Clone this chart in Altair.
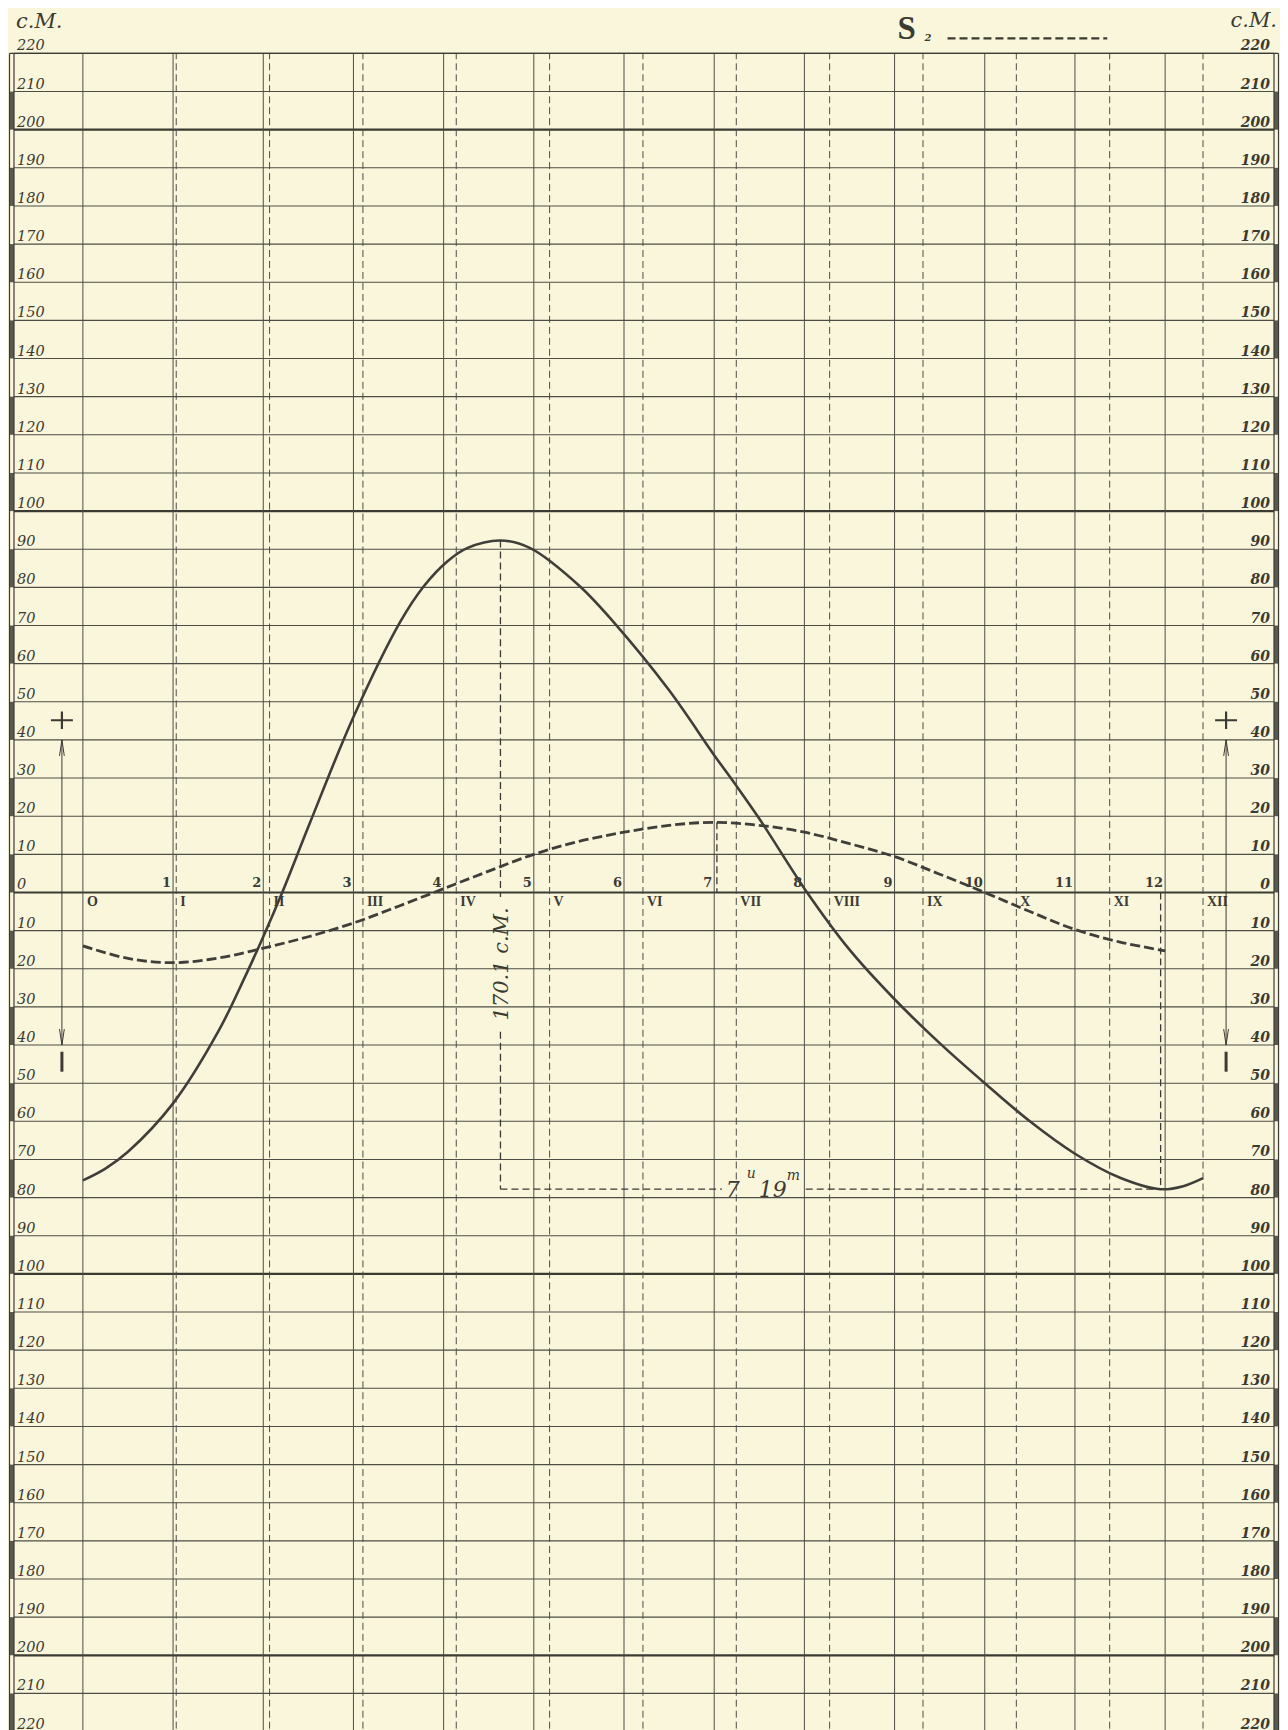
import altair as alt
import pandas as pd

# ---------------- data ----------------
# solid curve (hours, cm)
solid_h = [0, 0.25, 0.5, 1.0, 1.5, 1.8, 2.0, 2.21, 2.52, 3.0, 3.52, 3.78, 4.04, 4.26, 4.63,
           4.96, 5.51, 5.88, 6.5, 7.0, 7.23, 7.51, 8.03, 8.5, 9.0, 9.5, 10.0, 10.5,
           11.0, 11.5, 11.95, 12.2, 12.42]
solid_v = [-75.5, -72.4, -68, -55.3, -36.5, -22, -11.6, 0, 18.4, 46, 71, 80.3, 86.8, 90.3, 92.3,
           90.3, 80.3, 71, 53, 36, 28.5, 19, 0, -15, -28, -39.5, -50, -60, -68.5, -74.8,
           -77.8, -77, -74.9]
# S2 curve (dashed)
s2_h = [0, 0.5, 1.0, 1.5, 2.0, 2.5, 3.0, 3.5, 4.0, 4.5, 5.0, 5.5, 6.0, 6.5, 7.0, 7.5,
        8.0, 8.5, 9.0, 9.5, 10.0, 10.5, 11.0, 11.5, 12.0]
s2_v = [-14, -17.3, -18.4, -17.2, -14.6, -11.6, -8, -3.6, 1, 5.6, 10, 13.4, 15.8, 17.6,
        18.4, 17.6, 15.8, 12.8, 9.4, 4.8, 0, -5, -9.7, -13, -15.3]

levels = list(range(-220, 221, 10))
major_levels = [-200, -100, 0, 100, 200]
band_starts = list(range(-220, 201, 20))
solar_hours = list(range(0, 13))
arabic_labels = [str(i) for i in range(1, 13)]
roman_labels = ["O", "I", "II", "III", "IV", "V", "VI", "VII", "VIII", "IX", "X", "XI", "XII"]
LUNAR_HOUR = 12.42 / 12

max_h, max_v = 4.63, 92.3
min_h, min_v = 11.95, -77.8
s2_peak_h, s2_peak_v = 7.03, 18.4
range_label = "170.1 c.M."
unit_label = "c.M."
title_main, title_sub = "S", "2"

# ---------------- geometry helpers (page pixels -> data units) ----------------
W, H = 1272, 1714
PXH, PXV = 90.33, 3.82
X0_PAGE, Y0_PAGE = 82, 890.5      # page position of hour 0 / level 0


def hx(px):
    return (px - X0_PAGE) / PXH


def vy(py):
    return (Y0_PAGE - py) / PXV


H0, H1 = hx(8), hx(8 + W)
V0, V1 = vy(8 + H), vy(8)

PAPER = "#FAF6DC"
INK = "#3b3a33"
GRID = "#4d4c45"

XS = alt.Scale(domain=[H0, H1], nice=False, zero=False)
YS = alt.Scale(domain=[V0, V1], nice=False, zero=False)


def X(f="h"):
    return alt.X(f"{f}:Q", scale=XS, axis=None)


def Y(f="v"):
    return alt.Y(f"{f}:Q", scale=YS, axis=None)


L_IN, L_OUT = hx(13), hx(8.5)
R_IN, R_OUT = hx(1275), hx(1279.5)

layers = []

# dark bands in the side strips
bands = pd.DataFrame(
    [{"h": a, "h2": b, "v": s, "v2": s + 10} for s in band_starts
     for (a, b) in [(L_OUT, L_IN), (R_IN, R_OUT)]])
layers.append(alt.Chart(bands).mark_rect(color="#5b5a52").encode(
    x=X(), x2="h2", y=Y(), y2="v2"))

# horizontal grid lines
hl = pd.DataFrame({"v": [l for l in levels if l not in major_levels]})
hl["h"], hl["h2"] = L_IN, R_IN
layers.append(alt.Chart(hl).mark_rule(color=GRID, strokeWidth=1.1).encode(
    x=X(), x2="h2", y=Y()))
hm = pd.DataFrame({"v": major_levels})
hm["h"], hm["h2"] = L_IN, R_IN
layers.append(alt.Chart(hm).mark_rule(color=INK, strokeWidth=2.2).encode(
    x=X(), x2="h2", y=Y()))

# solar hour lines (solid)
vl = pd.DataFrame({"h": solar_hours})
vl["v"], vl["v2"] = -225, 220
layers.append(alt.Chart(vl).mark_rule(color=GRID, strokeWidth=1).encode(
    x=X(), y=Y(), y2="v2"))

# lunar hour lines (dashed)
ll = pd.DataFrame({"h": [k * LUNAR_HOUR for k in range(1, 13)]})
ll["v"], ll["v2"] = -225, 220
layers.append(alt.Chart(ll).mark_rule(color=GRID, strokeWidth=1, strokeDash=[7, 4]).encode(
    x=X(), y=Y(), y2="v2"))

# frame borders
fr = pd.DataFrame({"h": [L_OUT, L_IN, R_IN, R_OUT]})
fr["v"], fr["v2"] = -225, 220
layers.append(alt.Chart(fr).mark_rule(color=INK, strokeWidth=1.2).encode(
    x=X(), y=Y(), y2="v2"))
top = pd.DataFrame({"h": [L_OUT], "h2": [R_OUT], "v": [220]})
layers.append(alt.Chart(top).mark_rule(color=INK, strokeWidth=1.4).encode(
    x=X(), x2="h2", y=Y()))

# level labels
lab = pd.DataFrame({"v": levels, "t": [str(abs(l)) for l in levels]})
lab_l = lab.assign(h=hx(16))
lab_r = lab.assign(h=hx(1271))
layers.append(alt.Chart(lab_l).mark_text(
    align="left", baseline="alphabetic", dy=-3, font="DejaVu Serif", fontStyle="italic",
    fontSize=14.5, color=INK).encode(x=X(), y=Y(), text="t:N"))
layers.append(alt.Chart(lab_r).mark_text(
    align="right", baseline="alphabetic", dy=-3, font="DejaVu Serif", fontStyle="italic",
    fontWeight="bold", fontSize=14, color=INK).encode(x=X(), y=Y(), text="t:N"))

# hour numbers above the zero line
ar = pd.DataFrame({"h": list(range(1, 13)), "t": arabic_labels, "v": 0})
layers.append(alt.Chart(ar).mark_text(
    align="right", baseline="alphabetic", dx=-2, dy=-5, font="DejaVu Serif",
    fontWeight="bold", fontSize=13, color=INK).encode(x=X(), y=Y(), text="t:N"))
# roman lunar hours below the zero line
rm = pd.DataFrame({"h": [k * LUNAR_HOUR for k in range(13)], "t": roman_labels, "v": 0})
layers.append(alt.Chart(rm).mark_text(
    align="left", baseline="alphabetic", dx=4, dy=14, font="Liberation Serif",
    fontWeight="bold", fontSize=14, color=INK).encode(x=X(), y=Y(), text="t:N"))

# curves
sol = pd.DataFrame({"h": solid_h, "v": solid_v})
layers.append(alt.Chart(sol).mark_line(color="#3f3e38", strokeWidth=2.6,
                                       interpolate="catmull-rom").encode(x=X(), y=Y()))
s2 = pd.DataFrame({"h": s2_h, "v": s2_v})
layers.append(alt.Chart(s2).mark_line(color="#3f3e38", strokeWidth=2.8, strokeDash=[10, 4],
                                      interpolate="catmull-rom").encode(x=X(), y=Y()))

# annotation dashed lines
txt_top, txt_bot = vy(895), vy(1030)
t_left, t_right = hx(722), hx(806)
vseg = pd.DataFrame({
    "h": [max_h, max_h, min_h, s2_peak_h],
    "v": [max_v, txt_bot, 0, s2_peak_v],
    "v2": [txt_top, min_v, min_v, 0]})
layers.append(alt.Chart(vseg).mark_rule(color=INK, strokeWidth=1.3, strokeDash=[7, 4]).encode(
    x=X(), y=Y(), y2="v2"))
hseg = pd.DataFrame({"h": [max_h, t_right], "h2": [t_left, min_h], "v": [min_v, min_v]})
layers.append(alt.Chart(hseg).mark_rule(color=INK, strokeWidth=1.3, strokeDash=[7, 4]).encode(
    x=X(), x2="h2", y=Y()))

# rotated range label
rl = pd.DataFrame({"h": [hx(502)], "v": [vy(962)], "t": [range_label]})
layers.append(alt.Chart(rl).mark_text(
    angle=270, align="center", baseline="middle", font="DejaVu Serif", fontStyle="italic",
    fontSize=21, color=INK).encode(x=X(), y=Y(), text="t:N"))

# 7^u 19^m label
tm_big = pd.DataFrame({"h": [hx(726), hx(759)], "v": [vy(1195), vy(1195)], "t": ["7", "19"]})
layers.append(alt.Chart(tm_big).mark_text(
    align="left", baseline="alphabetic", font="DejaVu Serif", fontStyle="italic",
    fontSize=22, color=INK).encode(x=X(), y=Y(), text="t:N"))
tm_sup = pd.DataFrame({"h": [hx(747), hx(787)], "v": [vy(1176), vy(1178)], "t": ["u", "m"]})
layers.append(alt.Chart(tm_sup).mark_text(
    align="left", baseline="alphabetic", font="DejaVu Serif", fontStyle="italic",
    fontSize=14, color=INK).encode(x=X(), y=Y(), text="t:N"))

# +/- arrows on both sides
arrow_h = [hx(61), hx(1227)]
ar_line = pd.DataFrame({"h": arrow_h, "v": [40, 40], "v2": [-40, -40]})
layers.append(alt.Chart(ar_line).mark_rule(color=INK, strokeWidth=1).encode(
    x=X(), y=Y(), y2="v2"))
head_off = 8 / PXV
up = pd.DataFrame({"h": arrow_h, "v": [40 - head_off] * 2})
layers.append(alt.Chart(up).mark_point(
    shape="M-0.3,1L0,-1L0.3,1", size=256, filled=False, strokeWidth=1, color=INK,
    opacity=1).encode(x=X(), y=Y()))
dn = pd.DataFrame({"h": arrow_h, "v": [-40 + head_off] * 2})
layers.append(alt.Chart(dn).mark_point(
    shape="M-0.3,-1L0,1L0.3,-1", size=256, filled=False, strokeWidth=1, color=INK,
    opacity=1).encode(x=X(), y=Y()))
plus = pd.DataFrame({"h": arrow_h, "v": [vy(718)] * 2})
layers.append(alt.Chart(plus).mark_point(
    shape="M-1,0L1,0M0,-0.8L0,0.8", size=484, filled=False, strokeWidth=2.2, color=INK,
    opacity=1).encode(x=X(), y=Y()))
minus = pd.DataFrame({"h": arrow_h, "v": [vy(1060)] * 2})
layers.append(alt.Chart(minus).mark_point(
    shape="M0,-1L0,1", size=400, filled=False, strokeWidth=3, color=INK,
    opacity=1).encode(x=X(), y=Y()))

# top texts: c.M. units, S2 title with dashed key
cm = pd.DataFrame({"h": [hx(15)], "v": [vy(25)], "t": [unit_label]})
layers.append(alt.Chart(cm).mark_text(
    align="left", baseline="alphabetic", font="DejaVu Serif", fontStyle="italic",
    fontSize=21, color=INK).encode(x=X(), y=Y(), text="t:N"))
cm_r = pd.DataFrame({"h": [hx(1278)], "v": [vy(24)], "t": [unit_label]})
layers.append(alt.Chart(cm_r).mark_text(
    align="right", baseline="alphabetic", font="DejaVu Serif", fontStyle="italic",
    fontSize=21, color=INK).encode(x=X(), y=Y(), text="t:N"))
st = pd.DataFrame({"h": [hx(898)], "v": [vy(36)], "t": [title_main]})
layers.append(alt.Chart(st).mark_text(
    align="left", baseline="alphabetic", font="Liberation Serif", fontWeight="bold",
    fontSize=33, color=INK).encode(x=X(), y=Y(), text="t:N"))
ss = pd.DataFrame({"h": [hx(925)], "v": [vy(38)], "t": [title_sub]})
layers.append(alt.Chart(ss).mark_text(
    align="left", baseline="alphabetic", font="DejaVu Serif", fontStyle="italic",
    fontWeight="bold", fontSize=10, color=INK).encode(x=X(), y=Y(), text="t:N"))
key = pd.DataFrame({"h": [hx(948)], "h2": [hx(1108)], "v": [vy(35)]})
layers.append(alt.Chart(key).mark_rule(color=INK, strokeWidth=2.2, strokeDash=[8, 4]).encode(
    x=X(), x2="h2", y=Y()))

chart = alt.layer(*layers).properties(
    width=W, height=H, padding=0, background=PAPER
).configure_view(stroke=None, fill=PAPER)

chart.save("out.html", embed_options={"renderer": "svg", "actions": False})
